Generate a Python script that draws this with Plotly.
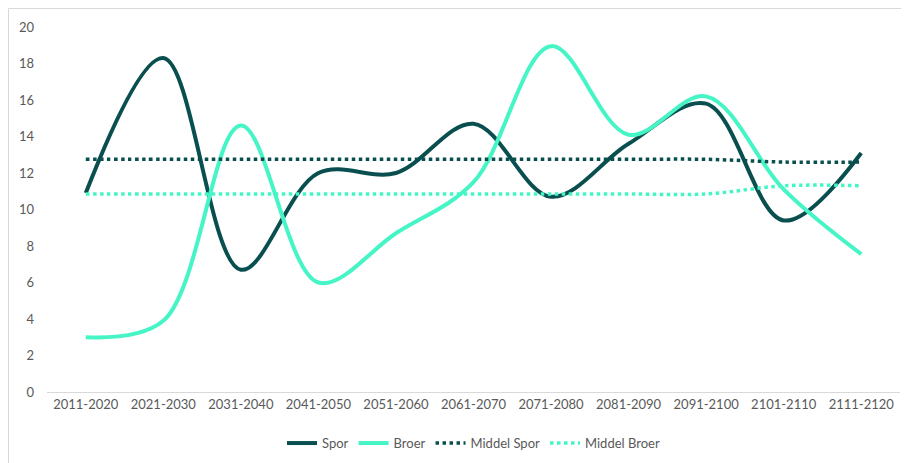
import plotly.graph_objects as go

categories = ["2011-2020", "2021-2030", "2031-2040", "2041-2050", "2051-2060",
              "2061-2070", "2071-2080", "2081-2090", "2091-2100", "2101-2110", "2111-2120"]
spor = [10.9, 18.3, 6.7, 12.0, 12.0, 14.7, 10.7, 13.6, 15.8, 9.4, 13.1]
broer = [3.0, 3.9, 14.6, 6.0, 8.7, 11.5, 18.95, 14.1, 16.2, 11.1, 7.55]
middel_spor = [12.75, 12.75, 12.75, 12.75, 12.75, 12.75, 12.75, 12.75, 12.75, 12.6, 12.6]
middel_broer = [10.85, 10.85, 10.85, 10.85, 10.85, 10.85, 10.85, 10.85, 10.85, 11.3, 11.3]
y_ticks = [0, 2, 4, 6, 8, 10, 12, 14, 16, 18, 20]

DARK = "#0A4F4F"
LIGHT = "#45F5C6"
FONT = "Lato"

fig = go.Figure()
fig.add_trace(go.Scatter(x=categories, y=spor, name="Spor", mode="lines",
                         line=dict(color=DARK, width=4, shape="spline", smoothing=1)))
fig.add_trace(go.Scatter(x=categories, y=broer, name="Broer", mode="lines",
                         line=dict(color=LIGHT, width=4, shape="spline", smoothing=1)))
fig.add_trace(go.Scatter(x=categories, y=middel_spor, name="Middel Spor", mode="lines",
                         line=dict(color=DARK, width=3.5, dash="dot", shape="spline", smoothing=1)))
fig.add_trace(go.Scatter(x=categories, y=middel_broer, name="Middel Broer", mode="lines",
                         line=dict(color=LIGHT, width=3.5, dash="dot", shape="spline", smoothing=1)))

fig.update_layout(
    width=901, height=455,
    margin=dict(l=39, r=9, t=19, b=71, autoexpand=False),
    paper_bgcolor="white", plot_bgcolor="white",
    font=dict(family=FONT, size=13, color="#595959"),
    showlegend=True,
    legend=dict(orientation="h", x=0.5, xanchor="center", y=-0.14, yanchor="middle",
                font=dict(family=FONT, size=13, color="#595959"),
                itemwidth=30, tracegroupgap=0),
    xaxis=dict(type="category", range=[-0.5, 10.5], showgrid=False, zeroline=False,
               showline=True, linecolor="#D9D9D9", linewidth=1, ticks="", automargin=False,
               tickfont=dict(family=FONT, size=13, color="#595959")),
    yaxis=dict(range=[0, 20], tickvals=y_ticks, showgrid=False, zeroline=False,
               showline=False, ticks="", ticklabelstandoff=12, automargin=False,
               tickfont=dict(family=FONT, size=13, color="#595959")),
    shapes=[dict(type="rect", xref="paper", yref="paper",
                 x0=-38.5/853, x1=1.2, y0=-0.5, y1=1 + 18.5/365,
                 line=dict(color="#D9D9D9", width=1), fillcolor="rgba(0,0,0,0)",
                 layer="below")],
)

fig.write_html("out.html")
